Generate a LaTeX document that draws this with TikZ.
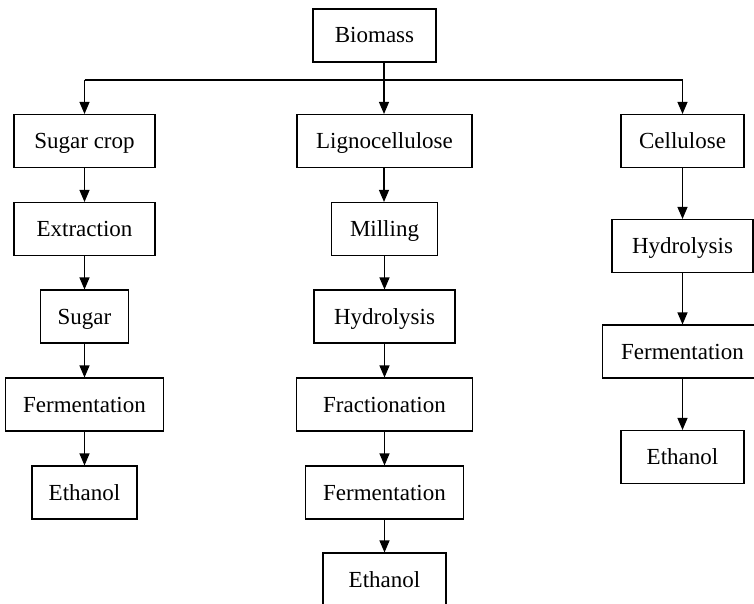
\documentclass[tikz,border=0pt]{standalone}
\usepackage{fontspec}
\setmainfont{Liberation Serif}
\usetikzlibrary{arrows.meta}
\tikzset{
  box/.style={draw, line width=1.1pt, minimum height=53pt, inner sep=0pt,
    text height=16pt, text depth=1pt, font=\fontsize{23}{27}\selectfont},
  arr/.style={line width=1.1pt, -{Triangle[length=12pt,width=10pt]}}
}
\begin{document}
\begin{tikzpicture}[x=1pt,y=-1pt]
  \useasboundingbox (0,0) rectangle (754,604);

  % top of the tree
  \node[box, minimum width=123pt] (biomass) at (374.5,35.5) {Biomass};
  \coordinate (split) at (384,80);

  % first level: three feedstocks
  \node[box, minimum width=141pt] (crop)  at (84.5,141)  {Sugar crop};
  \node[box, minimum width=175pt] (ligno) at (384.5,141) {Lignocellulose};
  \node[box, minimum width=123pt] (cell)  at (682.5,141) {Cellulose};

  % sugar crop route
  \node[box, minimum width=141pt] (extr)   at (84.5,229)   {Extraction};
  \node[box, minimum width=88pt]  (sugar)  at (84.5,316.5) {Sugar};
  \node[box, minimum width=158pt] (fermA)  at (84.5,404.5) {Fermentation};
  \node[box, minimum width=105pt] (ethA)   at (84.5,492.5) {Ethanol};

  % lignocellulose route
  \node[box, minimum width=106pt] (mill)   at (384.5,229)   {Milling};
  \node[box, minimum width=141pt] (hydB)   at (384.5,316.5) {Hydrolysis};
  \node[box, minimum width=176pt] (fract)  at (384.5,404.5) {Fractionation};
  \node[box, minimum width=158pt] (fermB)  at (384.5,492.5) {Fermentation};
  \node[box, minimum width=123pt] (ethB)   at (384.5,579.5) {Ethanol};

  % cellulose route
  \node[box, minimum width=141pt] (hydC)   at (682.5,246)   {Hydrolysis};
  \node[box, minimum width=160pt] (fermC)  at (682.5,351.5) {Fermentation};
  \node[box, minimum width=123pt] (ethC)   at (682.5,457)   {Ethanol};

  % branching from biomass
  \draw[arr] (biomass.south -| split) -- (ligno.north -| split);
  \draw[line width=1.1pt] (split -| crop) -- (split -| cell);
  \draw[arr] (split -| crop) -- (crop.north);
  \draw[arr] (split -| cell) -- (cell.north);

  % chains
  \foreach \a/\b in {crop/extr, extr/sugar, sugar/fermA, fermA/ethA,
      mill/hydB, hydB/fract, fract/fermB, fermB/ethB,
      cell/hydC, hydC/fermC, fermC/ethC}
    \draw[arr] (\a.south) -- (\b.north);
  \draw[arr] (ligno.south -| split) -- (mill.north -| split);
\end{tikzpicture}
\end{document}
